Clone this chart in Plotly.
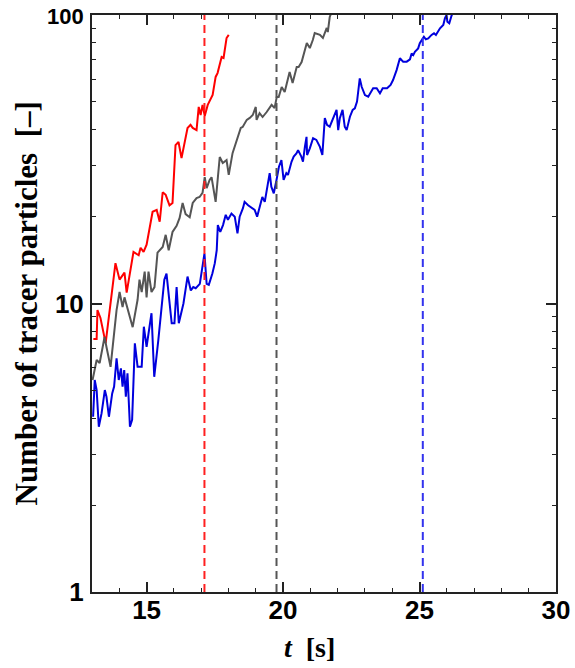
import plotly.graph_objects as go

# ---- data ----
red_t = [13.05,13.17,13.20,13.31,13.50,13.61,13.86,14.01,14.19,14.27,14.52,14.71,14.78,14.89,15.00,15.22,15.37,15.48,15.59,15.70,15.84,15.95,16.06,16.17,16.28,16.50,16.61,16.69,16.83,16.91,16.98,17.05,17.13,17.24,17.42,17.53,17.60,17.75,17.82,17.93,18.01]
red_n = [7.53,7.53,9.49,8.91,7.29,8.77,13.8,12.1,12.8,10.9,15.1,14.7,15.6,15.1,16.0,20.8,21.1,19.2,24.3,23.8,21.9,22.3,35.4,36.3,31.9,40.6,41.6,40.6,39.9,48.0,45.0,48.8,44.7,48.8,52.8,61.0,62.9,71.5,71.0,83.2,85.3]

gray_t = [13.02,13.17,13.28,13.46,13.53,13.68,13.90,14.01,14.12,14.19,14.49,14.67,14.74,14.82,14.93,15.00,15.07,15.18,15.29,15.40,15.59,15.70,15.81,15.95,16.10,16.21,16.32,16.43,16.58,16.69,16.83,16.94,17.05,17.13,17.20,17.31,17.38,17.53,17.68,17.79,17.93,18.01,18.15,18.30,18.45,18.52,18.67,18.78,18.89,19.00,19.03,19.14,19.25,19.40,19.58,19.69,19.77,19.84,19.95,20.06,20.14,20.24,20.35,20.50,20.57,20.68,20.87,20.98,21.09,21.16,21.35,21.46,21.60,21.64,21.71,21.75]
gray_n = [5.43,6.37,6.22,7.65,7.07,6.03,9.49,10.96,9.72,10.5,8.28,10.3,12.1,10.96,12.9,10.5,12.9,10.96,11.4,15.0,15.7,17.3,15.3,17.7,18.6,19.8,22.3,20.4,19.9,22.3,23.2,23.4,24.2,27.4,25.1,26.8,27.4,22.5,32.2,30.7,31.4,27.9,33.2,36.9,40.6,40.9,43.3,44.0,45.0,48.0,43.3,45.7,44.3,46.1,48.8,47.6,52.0,52.0,56.3,54.1,58.6,63.4,58.1,66.0,66.0,68.7,80.0,76.8,81.9,86.6,85.3,83.2,90.2,87.3,98.4,100.7]

blue_t = [13.04,13.10,13.17,13.25,13.35,13.47,13.53,13.62,13.74,13.81,13.90,13.98,14.06,14.12,14.18,14.24,14.30,14.39,14.47,14.57,14.67,14.82,14.90,15.00,15.18,15.28,15.43,15.52,15.65,15.73,15.82,15.92,16.02,16.10,16.18,16.35,16.50,16.62,16.71,16.80,16.95,17.04,17.12,17.20,17.28,17.41,17.50,17.57,17.61,17.70,17.80,17.90,17.98,18.11,18.23,18.33,18.41,18.53,18.59,18.72,18.88,18.96,19.05,19.14,19.24,19.33,19.45,19.51,19.57,19.66,19.76,19.85,19.94,20.02,20.12,20.18,20.31,20.39,20.49,20.55,20.67,20.73,20.80,20.86,20.88,20.98,21.10,21.22,21.35,21.44,21.53,21.61,21.71,21.81,21.90,21.96,22.02,22.08,22.18,22.26,22.33,22.45,22.55,22.63,22.71,22.81,22.88,23.00,23.12,23.21,23.30,23.43,23.55,23.65,23.81,23.94,24.03,24.16,24.28,24.34,24.40,24.53,24.65,24.71,24.77,24.83,24.95,25.01,25.11,25.16,25.23,25.32,25.44,25.53,25.60,25.75,25.87,25.93,25.99,26.02,26.09,26.18,26.24]
blue_n = [4.05,5.43,5.01,3.74,4.16,5.01,4.75,4.05,4.88,5.15,6.46,5.43,5.96,5.15,5.88,4.75,5.73,3.74,3.95,7.28,6.04,6.04,8.31,7.08,9.25,5.57,7.47,9.25,12.1,12.7,10.3,8.54,8.54,11.4,8.54,10.0,12.4,11.1,11.4,11.3,11.7,13.4,14.9,11.7,11.6,12.7,13.8,15.3,18.7,17.7,18.7,20.3,19.5,20.5,20.0,17.5,20.0,21.4,22.5,21.9,21.4,21.1,20.0,21.6,23.4,22.5,26.4,28.3,25.4,24.1,26.8,29.8,31.4,26.8,28.3,27.9,31.0,32.3,33.1,34.0,32.3,31.0,34.9,37.8,32.7,34.5,37.4,36.9,34.9,32.7,43.9,41.6,41.0,43.3,45.0,46.9,39.9,43.9,46.9,41.0,39.9,44.4,46.9,47.5,50.1,60.3,56.4,52.8,52.1,54.2,55.7,55.7,53.5,55.7,55.7,57.2,59.5,64.4,70.8,69.8,68.9,68.9,70.2,73.6,72.6,74.6,76.6,79.8,83.0,84.1,82.4,83.0,85.3,86.4,85.3,89.9,92.3,97.3,100,94.8,93.6,100,101.5]

# vertical marker times (dashed lines)
vline_t = [17.12, 19.76, 25.12]

x_ticks = [15, 20, 25, 30]
x_ticktext = ["15", "20", "25", "30"]
y_ticks = [1, 10, 100]
y_ticktext = ["1", "10", "<span style='font-size:22px'>100</span>"]
y_minor = [2, 3, 4, 5, 6, 7, 8, 9, 20, 30, 40, 50, 60, 70, 80, 90]

RED = "#ff0000"
GRAY = "#555555"
BLUE = "#0000dd"
series = [(red_t, red_n, RED), (gray_t, gray_n, GRAY), (blue_t, blue_n, BLUE)]
vcolors = ["#ff2020", "#555555", "#3333ee"]

fig = go.Figure()
for t, n, c in series:
    fig.add_trace(go.Scatter(x=t, y=n, mode="lines",
                             line=dict(color=c, width=2), showlegend=False))

for vt, vc in zip(vline_t, vcolors):
    fig.add_shape(type="line", xref="x", yref="paper", x0=vt, x1=vt, y0=0, y1=1,
                  line=dict(color=vc, width=2, dash="8px,5px"), layer="above")

tickfont = dict(family="Liberation Sans, Arial", size=26, color="black", weight="bold")

fig.update_layout(
    width=575, height=668,
    margin=dict(l=92, r=19, t=15, b=76, autoexpand=False),
    paper_bgcolor="white", plot_bgcolor="white",
    showlegend=False,
    xaxis=dict(range=[13, 30], tickvals=x_ticks, ticktext=x_ticktext, automargin=False,
               ticks="inside", ticklen=10, tickwidth=1.5, tickcolor="#222",
               showline=True, linewidth=2, linecolor="#222", mirror="ticks",
               showgrid=False, zeroline=False, tickfont=tickfont, ticklabelstandoff=-6,
               minor=dict(dtick=1, tick0=13, ticks="inside", ticklen=4, tickwidth=1.2,
                          tickcolor="#222", showgrid=False)),
    yaxis=dict(type="log", range=[0, 2], tickvals=y_ticks, ticktext=y_ticktext, automargin=False,
               ticks="inside", ticklen=10, tickwidth=1.5, tickcolor="#222",
               showline=True, linewidth=2, linecolor="#222", mirror="ticks",
               showgrid=False, zeroline=False, tickfont=tickfont, ticklabelstandoff=1,
               minor=dict(tickvals=y_minor, ticks="inside", ticklen=4, tickwidth=1.2,
                          tickcolor="#222", showgrid=False)),
)

xtitlefont = dict(family="Liberation Serif, Times New Roman", size=28, color="black", weight="bold")
ytitlefont = dict(family="Liberation Serif, Times New Roman", size=31, color="black", weight="bold")
fig.add_annotation(text="<i>t</i>\u00a0\u00a0[s]", xref="paper", yref="paper",
                   x=0.469, y=0, yshift=-73, xanchor="center", yanchor="bottom",
                   showarrow=False, font=xtitlefont)
fig.add_annotation(text="Number of tracer particles\u00a0\u00a0[\u2013]", xref="paper", yref="paper",
                   x=0, xshift=-66, y=0.5, xanchor="center", yanchor="middle",
                   textangle=-90, showarrow=False, font=ytitlefont)

fig.write_html("out.html", config={"displayModeBar": False},
               post_script="document.body.style.margin='0';")
